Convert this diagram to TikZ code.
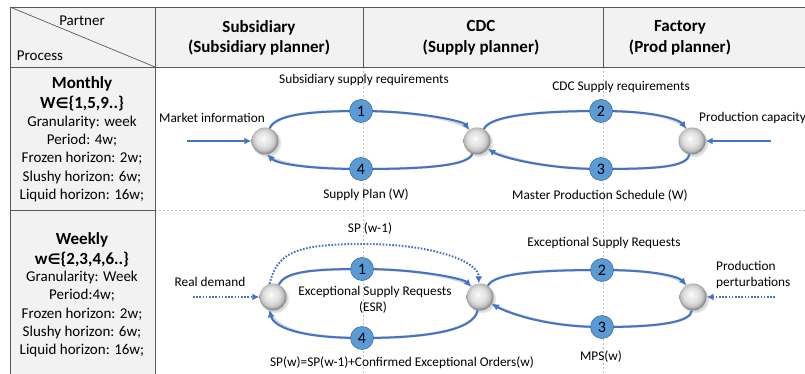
\documentclass[tikz,border=0pt]{standalone}
\usepackage{fontspec}
\setmainfont{Carlito}
\newfontfamily\dv{DejaVu Sans}
\usetikzlibrary{arrows.meta,shadows}
\definecolor{headgray}{HTML}{F2F2F2}
\definecolor{tabline}{HTML}{595959}
\definecolor{arcblue}{HTML}{4472C4}
\definecolor{badgefill}{HTML}{5B9BD5}
\definecolor{badgedraw}{HTML}{41719C}
\definecolor{guide}{HTML}{BFBFBF}
\pgfdeclareradialshading{sphshade}{\pgfpoint{-4bp}{5bp}}{%
  color(0bp)=(white);
  color(5bp)=(black!6);
  color(14bp)=(black!12);
  color(21bp)=(black!24);
  color(26bp)=(black!48);
  color(32bp)=(black!55);
  color(50bp)=(black!55)}
\tikzset{
  tab/.style={draw=tabline,line width=0.9pt},
  guideline/.style={draw=guide,line width=0.6pt,dash pattern=on 2pt off 2pt},
  lbl/.style={font=\fontsize{13.3}{15.5}\selectfont,inner sep=0pt},
  headtxt/.style={font=\fontsize{17}{20.5}\selectfont\bfseries,align=center,inner sep=0pt},
  coltitle/.style={font=\fontsize{17}{20}\selectfont\bfseries,align=center,inner sep=0pt},
  colbody/.style={font=\fontsize{15}{18.1}\selectfont,align=center,inner sep=0pt},
  sphere/.style={circle,minimum size=27pt,inner sep=0pt,shading=sphshade,circular drop shadow={opacity=0.3,shadow xshift=1.5pt,shadow yshift=-1.5pt}},
  badge/.style={circle,minimum size=23pt,inner sep=0pt,fill=badgefill,draw=badgedraw,line width=0.6pt,font=\fontsize{16}{16}\selectfont},
  flow/.style={draw=arcblue,line width=2pt,-{Latex[length=7pt,width=7pt]}},
  flowshadow/.style={draw=gray!55,line width=2.6pt,opacity=0.6,yshift=-2pt},
  dotflow/.style={draw=arcblue,line width=2pt,dash pattern=on 1.6pt off 1.6pt,-{Latex[length=7pt,width=7pt]}},
}
\newcommand\loopflow[1]{\path[flowshadow] #1; \draw[flow] #1;}
\begin{document}
\begin{tikzpicture}[x=1pt,y=-1pt]
\useasboundingbox (0,0) rectangle (805,374);
% backgrounds
\fill[headgray] (10,7) rectangle (805,67);
\fill[headgray] (10,67) rectangle (155,374);
% guide lines
\draw[guideline] (363,67) -- (363,374);
\draw[guideline] (603,67) -- (603,374);
\draw[guideline] (155,210) -- (805,210);
% table lines
\draw[tab] (805,7) -- (10,7) -- (10,374);
\draw[tab] (10,67) -- (805,67);
\draw[tab] (155,7) -- (155,374);
\draw[tab] (363,7) -- (363,67);
\draw[tab] (603,7) -- (603,67);
\draw[tab] (10,210) -- (155,210);
\draw[draw=tabline,line width=0.7pt] (10,7) -- (155,67);
% header texts
\node[lbl,font=\fontsize{15}{15}\selectfont] (partner) at (82,21) {Partner};
\node[lbl,font=\fontsize{15}{15}\selectfont] (process) at (40,56) {Process};
\node[headtxt] (hsub) at (259,38) {Subsidiary\\(Subsidiary planner)};
\node[headtxt] (hcdc) at (481,38) {CDC\\(Supply planner)};
\node[headtxt] (hfac) at (680,38) {Factory\\(Prod planner)};
% left column
\node[coltitle] (mt) at (82,94) {Monthly\\W{\dv\bfseries\fontsize{14.5}{20}\selectfont ∈}\{1,5,9..\}};
\node[colbody] (mb) at (82,159) {Granularity: week\\Period: 4w;\\Frozen horizon: 2w;\\Slushy horizon: 6w;\\Liquid horizon: 16w;};
\node[coltitle] (wt) at (82,250) {Weekly\\w{\dv\bfseries\fontsize{14.5}{20}\selectfont ∈}\{2,3,4,6..\}};
\node[colbody] (wb) at (82,314) {Granularity: Week\\Period:4w;\\Frozen horizon: 2w;\\Slushy horizon: 6w;\\Liquid horizon: 16w;};
% ---------- monthly ----------
\node[sphere] (L1) at (265,141) {};
\node[sphere] (C1) at (477,141) {};
\node[sphere] (F1) at (692,141) {};
\coordinate (B1p) at (361,111);
\coordinate (B4p) at (361,169);
\coordinate (B2p) at (601,111);
\coordinate (B3p) at (601,169);
\loopflow{(L1.70) .. controls +(6,-13) and +(-55,0) .. (B1p) .. controls +(55,0) and +(-6,-9) .. (C1.125)}
\loopflow{(C1.-110) .. controls +(-4,13) and +(55,0) .. (B4p) .. controls +(-55,0) and +(9,9) .. (L1.-80)}
\loopflow{(C1.60) .. controls +(6,-14) and +(-60,0) .. (B2p) .. controls +(55,0) and +(-7,-9) .. (F1.115)}
\loopflow{(F1.-100) .. controls +(-3,12) and +(60,0) .. (B3p) .. controls +(-60,0) and +(10,7) .. (C1.-35)}
\node[badge] (B1) at (B1p) {1};
\node[badge] (B4) at (B4p) {4};
\node[badge] (B2) at (B2p) {2};
\node[badge] (B3) at (B3p) {3};
\coordinate (mi) at (187,141);
\coordinate (pc) at (771,141);
\draw[flow,line width=1.6pt] (mi) -- (L1);
\draw[flow,line width=1.6pt] (pc) -- (F1);
\node[lbl] (tmi) at (212,118) {Market information};
\node[lbl,anchor=west] (tpc) at (699,118) {Production capacity};
\node[lbl] (tssr) at (364,80) {Subsidiary supply requirements};
\node[lbl] (tcdc) at (621,87) {CDC Supply requirements};
\node[lbl] (tsp) at (366,195) {Supply Plan (W)};
\node[lbl] (tmps) at (600,196) {Master Production Schedule (W)};
% ---------- weekly ----------
\node[sphere] (L2) at (273,297) {};
\node[sphere] (C2) at (480,297) {};
\node[sphere] (F2) at (693,297) {};
\coordinate (W1p) at (362,269);
\coordinate (W4p) at (362,338);
\coordinate (W2p) at (602,270);
\coordinate (W3p) at (602,327);
\coordinate (spt) at (363,244);
\loopflow{(L2.65) .. controls +(6,-12) and +(-55,0) .. (W1p) .. controls +(55,0) and +(-8,-8) .. (C2.130)}
\loopflow{(C2.-100) .. controls +(-4,20) and +(65,0) .. (W4p) .. controls +(-65,0) and +(4,16) .. (L2.-105)}
\loopflow{(C2.55) .. controls +(6,-13) and +(-60,0) .. (W2p) .. controls +(55,0) and +(-7,-8) .. (F2.120)}
\loopflow{(F2.-95) .. controls +(-1,11) and +(60,0) .. (W3p) .. controls +(-60,0) and +(12,7) .. (C2.-30)}
\draw[dotflow] (L2.105) .. controls +(8,-30) and +(-70,0) .. (spt) .. controls +(70,0) and +(0,-22) .. (C2.95);
\node[badge] (W1) at (W1p) {1};
\node[badge] (W4) at (W4p) {4};
\node[badge] (W2) at (W2p) {2};
\node[badge] (W3) at (W3p) {3};
\coordinate (rd) at (193,297);
\coordinate (pp) at (775,297);
\draw[dotflow] (rd) -- (L2);
\draw[dotflow] (pp) -- (F2);
\node[lbl] (trd) at (210,282) {Real demand};
\node[lbl,anchor=west,align=left] (tpp) at (716,275) {Production\\perturbations};
\node[lbl] (tsp1) at (370,229) {SP (w-1)};
\node[lbl] (tesr) at (375,292) {Exceptional Supply Requests};
\node[lbl] (tesr2) at (373,308) {(ESR)};
\node[lbl] (tspw) at (402,363) {SP(w)=SP(w-1)+Confirmed Exceptional Orders(w)};
\node[lbl] (tesr3) at (604,243) {Exceptional Supply Requests};
\node[lbl] (tmpsw) at (601,357) {MPS(w)};
\end{tikzpicture}
\end{document}
